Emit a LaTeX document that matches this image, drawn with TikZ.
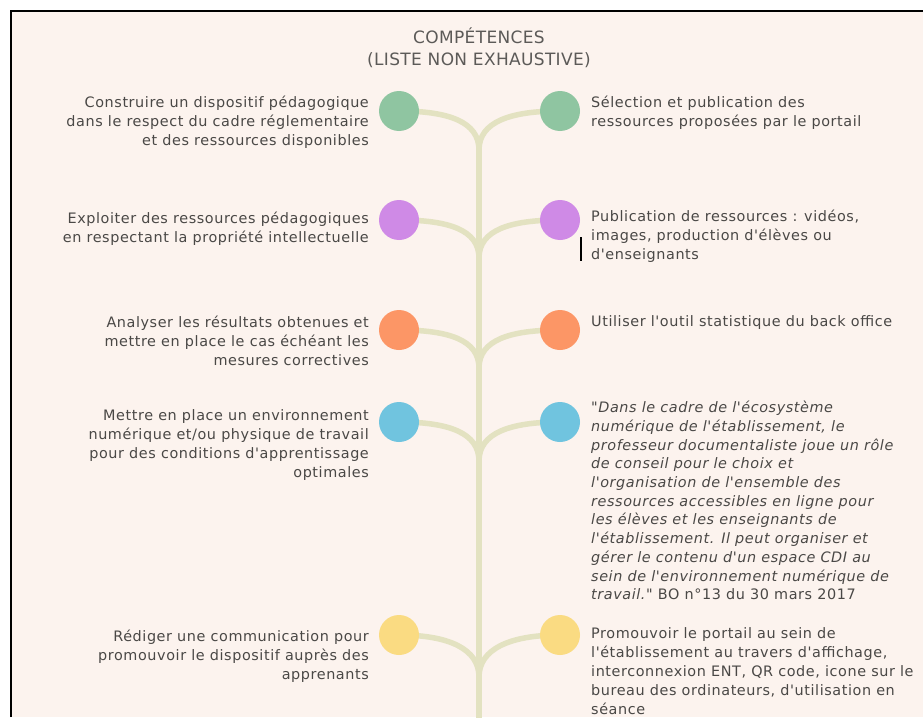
\documentclass[tikz,border=0pt]{standalone}
\usepackage{fontspec}
\setmainfont{DejaVu Sans}[Ligatures=TeXOff]
\newfontfamily\espace{DejaVu Sans}[Ligatures=TeXOff, LetterSpace=4]
\newfontfamily\espacetitre{DejaVu Sans}[Ligatures=TeXOff, LetterSpace=2]
\usetikzlibrary{calc,backgrounds}

\definecolor{fond}{HTML}{FCF3EE}
\definecolor{tige}{HTML}{E3E2C1}
\definecolor{vert}{HTML}{8FC5A1}
\definecolor{violet}{HTML}{CF8AE6}
\definecolor{corail}{HTML}{FC9666}
\definecolor{bleu}{HTML}{70C4DF}
\definecolor{jaune}{HTML}{FADB82}
\definecolor{texte}{HTML}{4A4846}

\tikzset{
  pastille/.style={circle, minimum size=40pt, inner sep=0pt, fill=#1},
  branche/.style={draw=tige, line width=5.5pt},
  corps/.style={inner sep=0pt, text=texte, font=\espace\fontsize{14.4}{19}\selectfont, execute at begin node=\strut},
  gauche/.style={corps, anchor=north east, align=right},
  droite/.style={corps, anchor=north west, align=left},
  titre/.style={text=texte!90, font=\espacetitre\fontsize{17}{20}\selectfont},
}

\begin{document}
\begin{tikzpicture}[x=1pt, y=-1pt]
  \useasboundingbox (0,0) rectangle (923,717);

  %% les pastilles de chaque cote du tronc
  \node[pastille=vert]   (l1) at (399,111) {};
  \node[pastille=vert]   (r1) at (560,111) {};
  \node[pastille=violet] (l2) at (399,220) {};
  \node[pastille=violet] (r2) at (560,220) {};
  \node[pastille=corail] (l3) at (399,330) {};
  \node[pastille=corail] (r3) at (560,330) {};
  \node[pastille=bleu]   (l4) at (399,422) {};
  \node[pastille=bleu]   (r4) at (560,422) {};
  \node[pastille=jaune]  (l5) at (399,635) {};
  \node[pastille=jaune]  (r5) at (560,635) {};

  %% points ou les branches rejoignent le tronc
  \coordinate (j1) at (479,150);
  \coordinate (j2) at (479,258);
  \coordinate (j3) at (479,368);
  \coordinate (j4) at (479,461);
  \coordinate (j5) at (479,677);
  \coordinate (bas) at (479,720);

  \begin{scope}[on background layer]
    \fill[fond] (10,11) rectangle (923,717);
    \draw[branche] (j1) -- (bas);
    \foreach \i in {1,...,5} {
      \draw[branche] (l\i.center) .. controls +(50,0) and +(0,-28) .. (j\i);
      \draw[branche] (r\i.center) .. controls +(-50,0) and +(0,-28) .. (j\i);
    }
  \end{scope}

  %% cadre
  \draw[line width=2pt] (10.5,717) -- (10.5,11.5) -- (923,11.5);

  \node[titre] (t1) at (479,36) {COMPÉTENCES};
  \node[titre] (t2) at (479,60) {(LISTE NON EXHAUSTIVE)};

  %% textes de gauche
  \node[gauche] (lt1) at (369,96) {Construire un dispositif pédagogique\\dans le respect du cadre réglementaire\\et des ressources disponibles};
  \node[gauche] (lt2) at (369,212) {Exploiter des ressources pédagogiques\\en respectant la propriété intellectuelle};
  \node[gauche] (lt3) at (369,316) {Analyser les résultats obtenues et\\mettre en place le cas échéant les\\mesures correctives};
  \node[gauche] (lt4) at (369,409) {Mettre en place un environnement\\numérique et/ou physique de travail\\pour des conditions d'apprentissage\\optimales};
  \node[gauche] (lt5) at (369,630) {Rédiger une communication pour\\promouvoir le dispositif auprès des\\apprenants};

  %% textes de droite
  \node[droite] (rt1) at (591,96) {Sélection et publication des\\ressources proposées par le portail};
  \node[droite] (rt2) at (591,210) {Publication de ressources : vidéos,\\images, production d'élèves ou\\d'enseignants};
  \node[droite] (rt3) at (591,313) {Utiliser l'outil statistique du back office};
  \node[droite, font=\espace\fontsize{14.4}{18.7}\selectfont] (rt4) at (591,401) {\itshape "Dans le cadre de l'écosystème\\\itshape numérique de l'établissement, le\\\itshape professeur documentaliste joue un rôle\\\itshape de conseil pour le choix et\\\itshape l'organisation de l'ensemble des\\\itshape ressources accessibles en ligne pour\\\itshape les élèves et les enseignants de\\\itshape l'établissement. Il peut organiser et\\\itshape gérer le contenu d'un espace CDI au\\\itshape sein de l'environnement numérique de\\{\itshape travail."} BO n°13 du 30 mars 2017};
  \node[droite] (rt5) at (591,627) {Promouvoir le portail au sein de\\l'établissement au travers d'affichage,\\interconnexion ENT, QR code, icone sur le\\bureau des ordinateurs, d'utilisation en\\séance};

  %% petite barre noire
  \draw[line width=2pt] (581,237) -- (581,261);
\end{tikzpicture}
\end{document}
